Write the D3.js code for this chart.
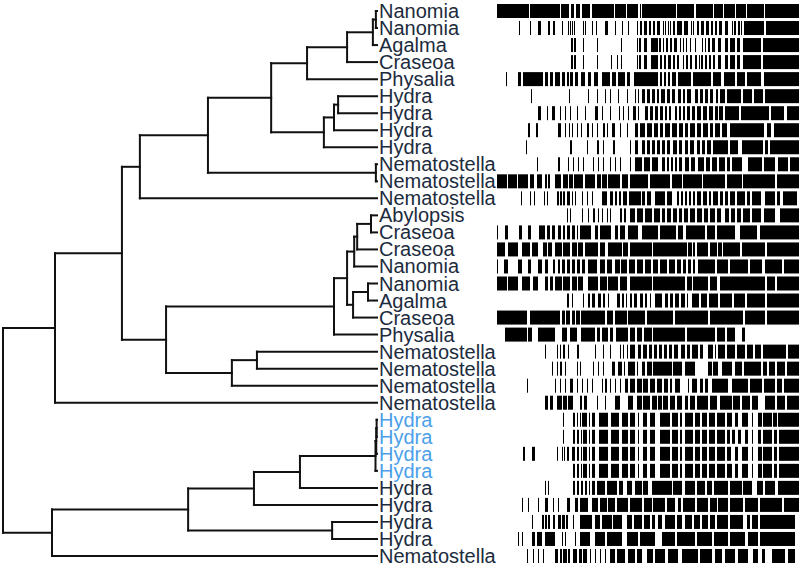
<!doctype html>
<html>
<head>
<meta charset="utf-8">
<title>Tree + alignment</title>
<script src="https://d3js.org/d3.v7.min.js"></script>
<style>
body { margin: 0; background: #fff; }
svg { display: block; }
.label { font-family: 'Liberation Sans', Arial, sans-serif; font-size: 20px; }
</style>
</head>
<body>
<div id="chart"></div>
<script>

// leaf labels, top to bottom
var leafNames = ["Nanomia","Nanomia","Agalma","Craseoa","Physalia","Hydra","Hydra","Hydra","Hydra",
  "Nematostella","Nematostella","Nematostella","Abylopsis","Craseoa","Craseoa","Nanomia","Nanomia",
  "Agalma","Craseoa","Physalia","Nematostella","Nematostella","Nematostella","Nematostella",
  "Hydra","Hydra","Hydra","Hydra","Hydra","Hydra","Hydra","Hydra","Nematostella"];
var highlighted = [24, 25, 26, 27];

// tree: [node, parent, distance from root]
var treeNodes = [
  ["root", "", 0],
  ["a", "root", 0.139],
  ["b", "a", 0.318],
  ["c", "b", 0.366],
  ["d", "c", 0.548],
  ["e", "d", 0.717],
  ["f", "e", 0.813],
  ["g", "f", 0.920],
  ["h", "g", 0.989],
  ["i", "h", 0.997],
  ["L0", "i", 1], ["L1", "i", 1], ["L2", "h", 1], ["L3", "g", 1], ["L4", "f", 1],
  ["j", "e", 0.858],
  ["k", "j", 0.885],
  ["l", "k", 0.896],
  ["L5", "l", 1], ["L6", "l", 1], ["L7", "k", 1], ["L8", "j", 1],
  ["m", "d", 0.997],
  ["L9", "m", 1], ["L10", "m", 1],
  ["L11", "c", 1],
  ["n", "b", 0.436],
  ["o", "n", 0.885],
  ["p", "o", 0.920],
  ["q", "p", 0.939],
  ["r", "q", 0.947],
  ["s", "r", 0.984],
  ["L12", "s", 1], ["L13", "s", 1], ["L14", "r", 1], ["L15", "q", 1],
  ["t", "p", 0.936],
  ["u", "t", 0.976],
  ["L16", "u", 1], ["L17", "u", 1], ["L18", "t", 1],
  ["L19", "o", 1],
  ["v", "n", 0.612],
  ["w", "v", 0.679],
  ["L20", "w", 1], ["L21", "w", 1], ["L22", "v", 1],
  ["L23", "a", 1],
  ["x", "root", 0.131],
  ["y", "x", 0.495],
  ["z", "y", 0.671],
  ["aa", "z", 0.794],
  ["bb", "aa", 0.996],
  ["cc", "bb", 0.998],
  ["dd", "cc", 0.999],
  ["L24", "dd", 1], ["L25", "dd", 1], ["L26", "cc", 1], ["L27", "bb", 1],
  ["L28", "aa", 1],
  ["L29", "z", 1],
  ["ee", "y", 0.88],
  ["L30", "ee", 1], ["L31", "ee", 1],
  ["L32", "x", 1]
];

// alignment occupancy per leaf: "a-b" = filled block of columns, "a" = single column
var alignRows = [
  "2-34 35-65 66-74 76-79 81-85 87-95 97-119 120-131 132-143 145-146 147-181 182-199 201-218 219-228 229-240 241-251 252-269 270-304",
  "24 35 43-46 53-55 58-60 67 73 75 77 79-80 88 90 97 101 110-113 120 127 133 142 145-147 149-152 154-156 158-160 162-165 168 170-171 173 175-176 178-180 182-187 189-193 196 198 202-204 206-209 211-214 216-218 220-222 224-227 230-233 237 239-241 243-245 246-247 249-269 271-304",
  "76 77 79 80 88 102 126 142 144-146 149-152 156-163 164-166 168-169 171-173 175-177 179-182 185 188 191 195-196 200 207-208 210-211 213-215 217-220 223-226 230-233 235-240 242-245 248-266 268-304",
  "76 77 79 80 88 102 116 122 126 142 144-146 149-152 156-163 165-167 169-171 173-176 178-180 182-184 188-189 191-193 195-197 200-202 204 206-208 210-212 214-216 218-220 223-226 230-233 235-240 242-245 248-266 268-304",
  "11 23-26 28-48 50-53 55-58 60-65 67-70 72-74 75-78 80-83 86-90 93-96 99-103 107-115 117-121 123-130 132-135 139-163 165-167 169-171 173-175 177-181 183-196 198-216 218-226 229-240 242-250 252-266 269-304",
  "36 74 93 102 110 115 123 132 140 143 147-150 152-155 157-160 162-164 166-170 172-175 177-180 183-186 188-190 192-196 200-203 205-208 210-213 215-218 221-223 225-230 232-246 248-257 259-268 270-304",
  "43-46 52-53 57-60 65 70 75 82 90 100-103 107 115 124 128 133 138-141 143 150-153 155-158 160-163 165-168 170-172 174-176 180-182 184-186 188-190 192-195 197-200 202-206 208-212 214-218 220-223 224-228 230-244 246-274 276-289 292-304",
  "33-35 41-43 63-66 70 74 77 82 86 92-94 97 102 108-110 112 117-120 125 132-133 140-143 145-150 152-157 159-163 165-168 170-175 177-182 184-188 190-193 195-200 202-206 208-213 215-218 220-225 227-232 235-269 272-276 279-304",
  "31 75-77 92 102-104 108 118-120 135 140-143 147-150 152-155 157-160 162-165 167-170 172-175 178-182 184-187 190-193 195-199 202-205 207-210 212-216 218-233 235-243 247-268 270-273 275-304",
  "42 63-65 73 78 83 88 98 103 108 115 120 125 135 140-147 149-155 157-163 167-170 172-174 176-178 180-182 184-187 190-194 196-200 203-209 211-215 217-222 224-230 232-235 237-247 253-267 269-280 283-293 295-304",
  "2-12 13-22 23-33 35-39 42-47 50-52 53-55 60-66 68-73 74-78 79-88 90-100 102-106 107-112 113-125 127-133 135-153 155-175 177-187 188-207 208-230 232-247 248-280 282-304",
  "26 35 39 49-50 52-53 62-64 65-67 68-70 72-75 77-78 80 87 92 97 107-112 115-118 120-122 124-126 128-132 134-146 147-150 152-156 160-170 172-177 182-184 186-188 190-192 194-196 198-200 202-206 208-212 214-216 218-223 225-228 230-233 235-240 242-250 252-255 257-266 270-280 282-285 288-302",
  "72-73 75 87 93 98-100 103 107 112 115 125-127 129-131 135-140 142-148 150-157 159-165 167-170 172-176 178-182 184-187 189-193 195-200 202-207 209-213 215-220 222-226 230-234 236-240 242-246 248-255 257-266 269-280 285-304",
  "2 10-13 24-27 33-36 44-50 52-55 57-60 63-66 68-70 72-75 77-80 82-83 85-96 100-103 105-116 120-123 125-130 133-143 147-163 165-181 183-188 191-210 212-220 222-240 245-262 265-304",
  "2-10 13-23 27-35 37-43 48-52 53-57 60-67 68-75 77-82 83-88 90-103 105-110 113-127 128-133 135-157 158-192 193-197 198-200 202-213 215-222 223-227 228-245 247-270 272-304",
  "2 9-13 23-27 33-36 43-47 50-53 58-60 63-65 67-70 72-75 77-80 82-85 87-90 93-102 105-110 112-117 120-125 126-132 134-140 142-148 150-156 158-163 165-172 174-180 182-186 188-191 193-196 198-200 203-220 222-233 235-253 255-267 270-287 289-304",
  "2-12 13-23 27-35 38-43 50-53 55-58 60-67 68-75 77-82 83-88 93-103 105-112 113-123 125-132 135-157 158-190 192-197 198-213 215-222 225-270 272-280 282-304",
  "72-74 77 88 93-95 97-100 103-106 108-110 113 122-125 127-129 131-132 135-137 139-142 145-148 150-152 155-156 160-167 170-173 175-178 180-184 186-190 192-193 197-204 206-212 214-223 225-237 239-250 252-270 272-304",
  "2-32 35-65 67-70 71-75 77-80 81-85 86-110 112-118 120-132 133-150 152-178 180-213 215-248 250-270 272-304",
  "10-32 33-37 43-60 67-72 75-82 86-100 102-105 107-113 115-118 121-133 135-140 142-147 149-157 158-190 192-220 222-230 232-240 247-250",
  "50-51 62 65-66 68-70 73 82 83 100 108 115 125-126 128 132 135-140 143-146 148-152 154-157 159-162 164-167 169-172 174-177 179-183 186-190 192-195 197-203 205-208 213-218 220 223-230 232-240 242-250 252-258 260-266 268-291 293-304",
  "57 62-63 65-67 70 82 85 98 103 108 117-120 123-127 129 133-140 142-143 147-150 152-157 158-177 178-187 190-200 213-217 218-223 227-237 240-247 249-266 268-272 274-280 282-290 292-304",
  "32 60 65 70 75-78 82 87 92 97 107-108 110-112 115 120 125 130-133 135-140 142-147 148-153 155-160 162-167 169-173 175-177 180-185 193 197-202 205-208 210-213 217-233 237-253 255-267 269-280 282-287 289-304",
  "50-53 55-58 62-67 68-72 73-78 85-87 89-92 102 110 120-125 133-138 142-147 148-155 157-162 163-167 168-173 175-180 182-187 190-193 195-200 202-213 215-222 225-237 238-245 247-255 257-263 270-280 282-290 292-304",
  "68 78-80 82-83 85 87-92 94 97-100 104-113 116-124 127-133 135-140 143 148-152 155-160 165-175 177-183 185-187 190-198 200-205 207-212 214-220 222-230 232-237 240-243 247-253 257 263-267 268-277 278-282 283-304",
  "68 78-80 82-84 86 88-92 94 97-100 104-113 116-124 127-133 135-140 143 148-152 155-160 165-175 177-183 185-187 190-198 200-205 207-212 214-220 222-230 232-235 237-240 243-246 250-253 257 263-266 268-277 279-282 284-304",
  "28-30 37-40 62 67 69 72-74 77-80 82-84 86 88-92 94 97-100 104-113 116-124 127-133 135-140 143 148-152 155-160 165-175 177-183 185-187 190-198 200-205 207-212 214-220 222-230 232-236 240-243 247-253 257 263-267 268-277 279-282 284-304",
  "78-80 82-84 86 88-92 94 97-100 104-113 116-124 127-133 135-140 143 148-152 155-160 165-175 177-183 185-187 190-198 200-205 207-212 214-220 222-230 232-237 240-243 247-253 257 263-267 268-277 279-282 284-304",
  "50-51 53-54 78-80 82-84 86-88 90-92 94-95 97-100 102-110 112-122 124-128 132-137 140-147 148-153 157-177 178-187 190-200 202-210 212-217 219-233 235-247 248-257 262-268 270-280 283-304",
  "27 33 43 50-53 58 63 72-75 80-83 85-93 97-103 105-112 113-120 122-133 135-147 149-157 158-170 172-180 183-186 188-200 202-213 215-222 223-233 235-248 250-263 265-287 289-304",
  "37 47-49 50-52 53-55 58-60 63-66 67-70 71-73 78 85-97 100-105 107-117 118-127 132-137 139-147 149-155 157-160 163-167 170-180 182-187 190-197 199-205 207-213 215-220 222-233 235-248 252-255 257-263 265-300",
  "23 27 37-40 42-47 50-60 67 70 80-81 85-95 100-110 112-127 132-143 145-160 167-180 182-200 202-217 219-233 235-250 253-263 265-300",
  "32 38 43 48 60-63 65-67 68-72 73-75 78-82 84-87 88-92 95 100 105 110 115-120 122-130 133-140 142-147 152-158 160-170 173-183 187-203 205-217 220-227 230-240 243-253 258-263 267-270 277-290 293-300"
];

var width = 800, height = 568;

var svg = d3.select("#chart").append("svg")
  .attr("width", width)
  .attr("height", height);

svg.append("rect").attr("width", width).attr("height", height).attr("fill", "#fff");

var yScale = d3.scaleLinear().domain([0, leafNames.length - 1]).range([11, 556]);
var xTree = d3.scaleLinear().domain([0, 1]).range([3, 377]);
var xAlign = d3.scaleLinear().domain([0, 305]).range([495, 800]);

// build the tree
var root = d3.stratify()
  .id(function(d){ return d[0]; })
  .parentId(function(d){ return d[1]; })(treeNodes);

root.eachAfter(function(n){
  n.px = xTree(n.data[2]);
  if (n.children) {
    n.py = (n.children[0].py + n.children[n.children.length - 1].py) / 2;
  } else {
    n.leafIndex = +n.id.slice(1);
    n.py = yScale(n.leafIndex);
  }
});

var g = svg.append("g")
  .attr("fill", "none")
  .attr("stroke", "#111")
  .attr("stroke-width", 2)
  .attr("stroke-linecap", "square");

root.descendants().forEach(function(n){
  if (!n.children) return;
  var first = n.children[0], last = n.children[n.children.length - 1];
  g.append("path").attr("d", "M" + n.px + "," + first.py + "V" + last.py);
  n.children.forEach(function(c){
    g.append("path").attr("d", "M" + n.px + "," + c.py + "H" + c.px);
  });
});

// labels
svg.append("g").selectAll("text")
  .data(leafNames)
  .enter().append("text")
  .attr("class", "label")
  .attr("x", 379)
  .attr("y", function(d, i){ return yScale(i); })
  .attr("dy", "0.35em")
  .attr("fill", function(d, i){ return highlighted.indexOf(i) >= 0 ? "#4b9fea" : "#1c2b3d"; })
  .text(function(d){ return d; });

// alignment blocks
var segs = [];
alignRows.forEach(function(row, i){
  row.split(" ").forEach(function(tok){
    var p = tok.split("-");
    var a = +p[0], b = p.length > 1 ? +p[1] : a + 1;
    segs.push({row: i, a: a, b: b});
  });
});

svg.append("g").selectAll("rect")
  .data(segs)
  .enter().append("rect")
  .attr("x", function(d){ return xAlign(d.a); })
  .attr("width", function(d){ return Math.max(1, xAlign(d.b) - xAlign(d.a)); })
  .attr("y", function(d){ return yScale(d.row) - 7; })
  .attr("height", 14)
  .attr("fill", "#000");

</script>
</body>
</html>
